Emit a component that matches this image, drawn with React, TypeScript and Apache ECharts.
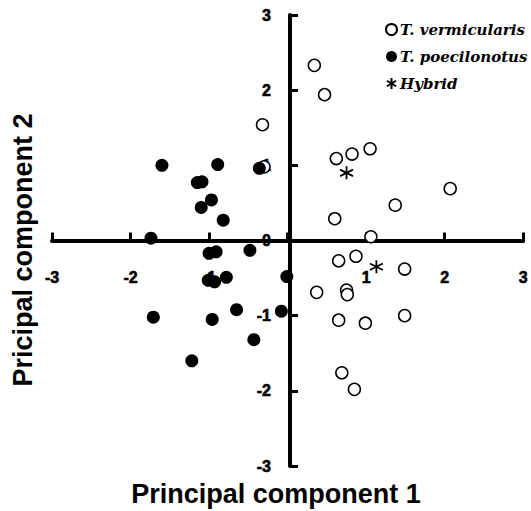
import React, { useEffect, useRef } from "react";
import * as echarts from "echarts";

const seriesNames = ["T. vermicularis", "T. poecilonotus", "Hybrid"];

const vermicularis: number[][] = [
  [0.34, 2.33], [0.47, 1.94], [-0.32, 1.54], [-0.30, 0.98], [0.62, 1.09],
  [0.82, 1.15], [1.05, 1.22], [2.07, 0.69], [1.37, 0.47], [0.60, 0.29],
  [1.06, 0.05], [0.65, -0.27], [0.87, -0.21], [1.49, -0.38], [0.37, -0.69],
  [0.75, -0.66], [0.76, -0.72], [0.65, -1.06], [0.99, -1.10], [1.49, -1.00],
  [0.69, -1.76], [0.85, -1.98],
];

const poecilonotus: number[][] = [
  [-1.60, 1.00], [-0.89, 1.01], [-0.36, 0.96], [-1.15, 0.77], [-1.09, 0.78],
  [-0.97, 0.54], [-1.10, 0.44], [-0.82, 0.27], [-1.74, 0.03], [-1.00, -0.17],
  [-0.91, -0.15], [-0.48, -0.13], [-1.01, -0.53], [-0.93, -0.55], [-0.78, -0.49],
  [-1.71, -1.02], [-0.96, -1.05], [-0.65, -0.92], [-0.43, -1.32], [-1.22, -1.60],
  [-0.01, -0.48], [-0.08, -0.94],
];

const hybrid: number[][] = [
  [0.75, 0.90], [1.13, -0.35],
];

const axisMin = -3;
const axisMax = 3;
const axisInterval = 1;
const xTitle = "Principal component 1";
const yTitle = "Pricipal component 2";

const asterisk = "path://M6,0L6,12M1,3L11,9M1,9L11,3";

export default function App() {
  const ref = useRef<HTMLDivElement>(null);
  useEffect(() => {
    if (!ref.current) return;
    const chart = echarts.init(ref.current, undefined, { renderer: "svg" });
    const W = 531;
    const H = 511;
    const gridLeft = 52;
    const gridRight = 3;
    const gridTop = 15;
    const gridBottom = 45;
    const plotW = W - gridLeft - gridRight;
    const plotH = H - gridTop - gridBottom;
    const zeroX = (plotW * (0 - axisMin)) / (axisMax - axisMin);
    const zeroY = (plotH * (axisMax - 0)) / (axisMax - axisMin);
    const axisLine = { show: true, onZero: false, lineStyle: { color: "#000", width: 4, cap: "round" } };
    const axisTick = { show: true, inside: true, length: 8, lineStyle: { color: "#000", width: 3 } };
    const tickText = {
      color: "#000",
      fontFamily: "Liberation Sans",
      fontWeight: "bold",
      fontSize: 16,
      textBorderColor: "#000",
      textBorderWidth: 0.6,
    };
    chart.setOption({
      animation: false,
      backgroundColor: "#fff",
      grid: { left: gridLeft, right: gridRight, top: gridTop, bottom: gridBottom, containLabel: false },
      xAxis: {
        type: "value",
        position: "bottom",
        offset: -(plotH - zeroY),
        min: axisMin,
        max: axisMax,
        interval: axisInterval,
        axisLine,
        axisTick,
        splitLine: { show: false },
        axisLabel: {
          show: true,
          margin: 29,
          formatter: (v: number) => (v === 0 ? "" : String(v)),
          ...tickText,
        },
      },
      yAxis: {
        type: "value",
        position: "left",
        offset: -zeroX,
        min: axisMin,
        max: axisMax,
        interval: axisInterval,
        axisLine,
        axisTick,
        splitLine: { show: false },
        axisLabel: {
          show: true,
          margin: 19,
          ...tickText,
        },
      },
      legend: {
        orient: "vertical",
        left: 380,
        top: 17,
        itemWidth: 11,
        itemHeight: 11,
        itemGap: 12,
        textStyle: {
          color: "#000",
          fontFamily: "DejaVu Serif",
          fontStyle: "italic",
          fontWeight: "bold",
          fontSize: 15,
          padding: [0, 0, 0, -2],
        },
        data: seriesNames,
      },
      graphic: [
        {
          type: "text",
          x: 276,
          y: 494,
          style: {
            text: xTitle,
            fill: "#000",
            font: "bold 27px 'Liberation Sans'",
            align: "center",
            verticalAlign: "middle",
          },
        },
        {
          type: "text",
          x: 23,
          y: 250,
          rotation: Math.PI / 2,
          style: {
            text: yTitle,
            fill: "#000",
            font: "bold 27px 'Liberation Sans'",
            align: "center",
            verticalAlign: "middle",
          },
        },
      ],
      series: [
        {
          name: seriesNames[0],
          type: "scatter",
          symbol: "circle",
          symbolSize: 12,
          itemStyle: { color: "#fff", borderColor: "#000", borderWidth: 1.5, opacity: 1 },
          data: vermicularis,
          z: 3,
        },
        {
          name: seriesNames[1],
          type: "scatter",
          symbol: "circle",
          symbolSize: 13,
          itemStyle: { color: "#000", borderColor: "#000", borderWidth: 0, opacity: 1 },
          data: poecilonotus,
          z: 3,
        },
        {
          name: seriesNames[2],
          type: "scatter",
          symbol: asterisk,
          symbolSize: 13,
          itemStyle: { color: "transparent", borderColor: "#000", borderWidth: 1.8, opacity: 1 },
          data: hybrid,
          z: 4,
        },
      ],
    });
    return () => chart.dispose();
  }, []);
  return <div ref={ref} style={{ width: 531, height: 511, position: "absolute", left: 0, top: 0 }} />;
}
